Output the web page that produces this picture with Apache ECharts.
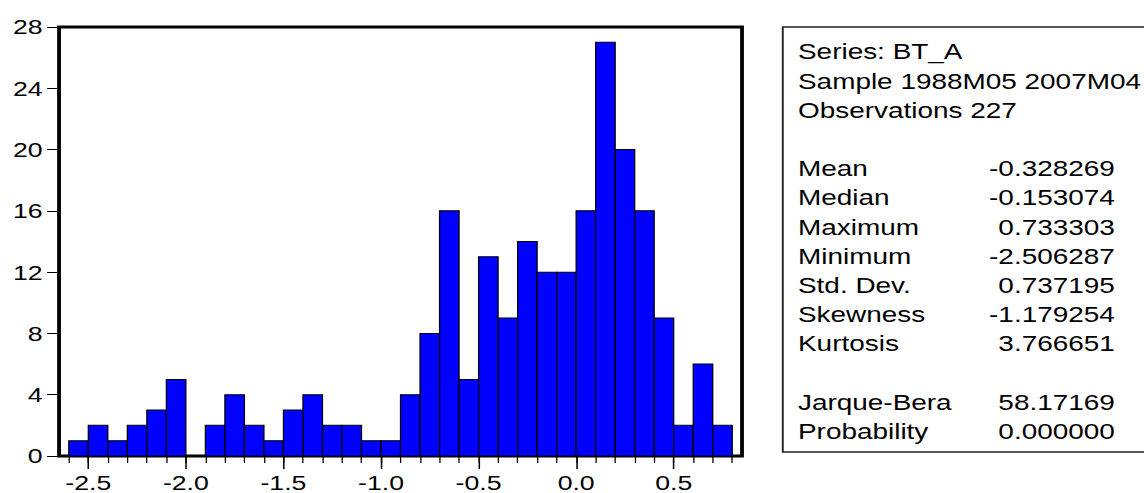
<!DOCTYPE html>
<html>
<head>
<meta charset="utf-8">
<title>Histogram of BT_A</title>
<script src="https://cdn.jsdelivr.net/npm/echarts@6/dist/echarts.min.js"></script>
<style>
  html, body { margin: 0; padding: 0; background: #ffffff; overflow: hidden; }
  /* The graph is laid out on a narrower sheet and widened, giving the broad lettering of the original export */
  #chart { width: 901px; height: 493px; transform: scaleX(1.2697); transform-origin: 0 0; }
</style>
</head>
<body>
<div id="chart"></div>
<script>
// Histogram bin edges (bins are 0.1 wide)
const binEdges = [-2.6, -2.5, -2.4, -2.3, -2.2, -2.1, -2.0, -1.9, -1.8, -1.7, -1.6, -1.5,
                  -1.4, -1.3, -1.2, -1.1, -1.0, -0.9, -0.8, -0.7, -0.6, -0.5, -0.4, -0.3,
                  -0.2, -0.1, 0.0, 0.1, 0.2, 0.3, 0.4, 0.5, 0.6, 0.7, 0.8];
// Observation counts per bin
const binCounts = [1, 2, 1, 2, 3, 5, 0, 2, 4, 2, 1, 3, 4, 2, 2, 1, 1, 4, 8, 16, 5, 13,
                   9, 14, 12, 12, 16, 27, 20, 16, 9, 2, 6, 2];
// Labelled ticks on the horizontal axis
const xTickLabels = [-2.5, -2.0, -1.5, -1.0, -0.5, 0.0, 0.5];
// Descriptive statistics panel
const headerLines = ['Series: BT_A', 'Sample 1988M05 2007M04', 'Observations 227'];
const statNames = ['Mean', 'Median', 'Maximum', 'Minimum', 'Std. Dev.', 'Skewness', 'Kurtosis'];
const statValues = ['-0.328269', '-0.153074', '0.733303', '-2.506287', '0.737195', '-1.179254', '3.766651'];
const testNames = ['Jarque-Bera', 'Probability'];
const testValues = ['58.17169', '0.000000'];

const FONT = '"Liberation Sans", Arial, Helvetica, sans-serif';

const histData = binCounts.map((c, i) => [binEdges[i], binEdges[i + 1], c]);

// Text rows of the statistics panel (null = blank row)
const rows = [];
headerLines.forEach(t => rows.push({ left: t }));
rows.push(null);
statNames.forEach((n, i) => rows.push({ left: n, right: statValues[i] }));
rows.push(null);
testNames.forEach((n, i) => rows.push({ left: n, right: testValues[i] }));

const panelLeft = 616.5, panelTop = 27, panelBottom = 452;
const textLeft = 628.5, textRight = 878;
const rowTop = 51.5, rowStep = 29.2;

const panelElements = [{
  type: 'rect',
  shape: { x: panelLeft, y: panelTop, width: 400, height: panelBottom - panelTop },
  style: { fill: 'none', stroke: '#222', lineWidth: 1.5 },
  z: 10
}];
rows.forEach((r, i) => {
  if (!r) return;
  const y = rowTop + i * rowStep;
  panelElements.push({
    type: 'text', z: 11,
    style: { text: r.left, x: textLeft, y: y, font: '22px ' + FONT, fill: '#000',
             align: 'left', verticalAlign: 'middle', textAlign: 'left', textVerticalAlign: 'middle' }
  });
  if (r.right) {
    panelElements.push({
      type: 'text', z: 11,
      style: { text: r.right, x: textRight, y: y, font: '22px ' + FONT, fill: '#000',
               align: 'right', verticalAlign: 'middle', textAlign: 'right', textVerticalAlign: 'middle' }
    });
  }
});

const chart = echarts.init(document.getElementById('chart'), null, { renderer: 'svg' });
chart.setOption({
  animation: false,
  backgroundColor: '#ffffff',
  grid: {
    left: 46.5, right: 316.6, top: 27, bottom: 37,
    show: true, borderColor: '#000', borderWidth: 3, backgroundColor: 'transparent',
    containLabel: false
  },
  xAxis: [{
    type: 'value', min: -2.65, max: 0.85, position: 'bottom',
    axisLine: { show: false, onZero: false },
    axisTick: { show: true, inside: false, length: 7, customValues: binEdges,
                lineStyle: { color: '#000', width: 1 } },
    axisLabel: { show: false },
    splitLine: { show: false }
  }, {
    type: 'value', min: -2.65, max: 0.85, position: 'bottom',
    axisLine: { show: false, onZero: false },
    axisTick: { show: true, inside: false, length: 13, customValues: xTickLabels,
                lineStyle: { color: '#000', width: 1.2 } },
    axisLabel: { show: true, customValues: xTickLabels, margin: 16, color: '#000',
                 fontSize: 21, fontFamily: FONT,
                 formatter: v => Number(v).toFixed(1) },
    splitLine: { show: false }
  }],
  yAxis: {
    type: 'value', min: 0, max: 28, interval: 4, position: 'left',
    axisLine: { show: false, onZero: false },
    axisTick: { show: true, inside: false, length: 9.5, lineStyle: { color: '#000', width: 1 } },
    axisLabel: { color: '#000', fontSize: 21, fontFamily: FONT, margin: 13 },
    splitLine: { show: false }
  },
  series: [{
    type: 'custom',
    xAxisIndex: 0,
    yAxisIndex: 0,
    data: histData,
    encode: { x: [0, 1], y: 2 },
    renderItem: function (params, api) {
      const p0 = api.coord([api.value(0), api.value(2)]);
      const p1 = api.coord([api.value(1), 0]);
      return {
        type: 'rect',
        shape: { x: p0[0], y: p0[1], width: p1[0] - p0[0], height: p1[1] - p0[1] },
        style: { fill: '#0000ff', stroke: '#000', lineWidth: 1 }
      };
    }
  }],
  graphic: { elements: panelElements }
});
</script>
</body>
</html>
